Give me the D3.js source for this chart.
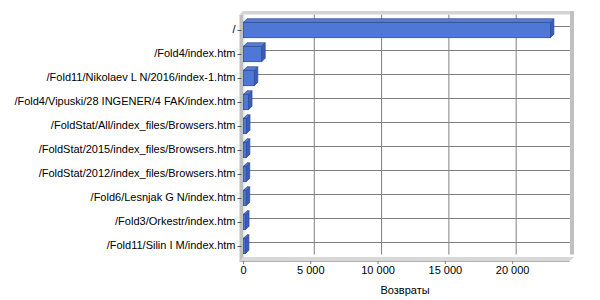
<!DOCTYPE html>
<html>
<head>
<meta charset="utf-8">
<script src="https://cdn.jsdelivr.net/npm/d3@7"></script>
<style>
    body { margin: 0; background: #fff; }
    text { font-family: "Liberation Sans", Arial, sans-serif; font-size: 11px; fill: #000; }
</style>
</head>
<body>
<div id="chart"></div>
<script>
// Categories, top to bottom
var pages = [
    "/",
    "/Fold4/index.htm",
    "/Fold11/Nikolaev L N/2016/index-1.htm",
    "/Fold4/Vipuski/28 INGENER/4 FAK/index.htm",
    "/FoldStat/All/index_files/Browsers.htm",
    "/FoldStat/2015/index_files/Browsers.htm",
    "/FoldStat/2012/index_files/Browsers.htm",
    "/Fold6/Lesnjak G N/index.htm",
    "/Fold3/Orkestr/index.htm",
    "/Fold11/Silin I M/index.htm"
];
// Returns per page
var returns = [22800, 1350, 800, 370, 220, 210, 200, 200, 150, 140];
var xTicks = [0, 5000, 10000, 15000, 20000];
var xMax = 24000;
var xTitle = "Возвраты";

var anchorElement = "#chart";
var width = 600;
var height = 300;

// front plane of the plot box
// (note: "top" is taken by window.top, so plotTop etc.)
var plotLeft = 243.5;
var plotRight = 566.5;
var plotTop = 18;
var plotBottom = 258;
var depth = 3.5;   // 3d offset of back wall (right and up)

function chart()
{
    var left = plotLeft, right = plotRight, top = plotTop, bottom = plotBottom;

    var svg = d3.select(anchorElement).append("svg")
        .attr("width", width)
        .attr("height", height);

    var x = d3.scaleLinear()
        .domain([0, xMax])
        .range([left, right]);

    var y = d3.scaleBand()
        .domain(pages)
        .range([top, bottom])
        .paddingInner(0.36)
        .paddingOuter(0.18);

    var yCenter = function(d) { return y(d) + y.bandwidth() / 2; };

    // back wall
    svg.append("rect")
        .attr("x", x(0) + depth)
        .attr("y", top - depth)
        .attr("width", right - left)
        .attr("height", bottom - top)
        .style("fill", "#fff");

    // vertical gridlines on the back wall
    svg.selectAll(".vgrid")
        .data(xTicks.slice(1))
      .enter().append("line")
        .attr("class", "vgrid")
        .attr("x1", function(d) { return x(d) + depth; })
        .attr("x2", function(d) { return x(d) + depth; })
        .attr("y1", top - depth)
        .attr("y2", bottom - depth)
        .style("stroke", "#808080");

    // horizontal gridlines on the back wall
    svg.selectAll(".hgrid")
        .data(pages)
      .enter().append("line")
        .attr("class", "hgrid")
        .attr("x1", x(0) + depth)
        .attr("x2", right + depth)
        .attr("y1", function(d) { return yCenter(d) - depth; })
        .attr("y2", function(d) { return yCenter(d) - depth; })
        .style("stroke", "#808080");

    // wall edges (grey slabs)
    var wall = "#c0c0c0";
    // top edge of back wall
    svg.append("path")
        .attr("d", "M" + (left - 4) + "," + (top - depth + 0.5) +
            "L" + (left - 4 + depth) + "," + (top - 2 * depth) +
            "L" + (right + depth + 4) + "," + (top - 2 * depth) +
            "L" + (right + depth + 4) + "," + (top - depth) +
            "L" + (left + depth) + "," + (top - depth) + "Z")
        .style("fill", "#d4d4d4");
    // right edge of back wall
    svg.append("rect")
        .attr("x", right + depth)
        .attr("y", top - 2 * depth)
        .attr("width", 4)
        .attr("height", bottom - top + depth)
        .style("fill", wall);
    // left wall
    svg.append("path")
        .attr("d", "M" + (left - 4) + "," + (top - depth + 0.5) +
            "L" + left + "," + (top - depth + 0.5) +
            "L" + left + "," + (bottom + 3) +
            "L" + (left - 4) + "," + (bottom + 3) + "Z")
        .style("fill", wall);
    svg.append("line")
        .attr("x1", left + 0.5).attr("x2", left + 0.5)
        .attr("y1", top - depth).attr("y2", bottom)
        .style("stroke", "#e8e8e8");
    // floor
    svg.append("path")
        .attr("d", "M" + (left - 4) + "," + (bottom + 3) +
            "L" + (left) + "," + (bottom - 1) +
            "L" + (right + depth + 4) + "," + (bottom - 1) +
            "L" + (right + 3) + "," + (bottom + 3) + "Z")
        .style("fill", "#d8d8d8");
    svg.append("line")
        .attr("x1", left - 4).attr("x2", right + 3)
        .attr("y1", bottom + 3.5).attr("y2", bottom + 3.5)
        .style("stroke", "#b0b0b0");

    // bars: right side, top, front
    var bars = svg.selectAll(".bar")
        .data(pages)
      .enter().append("g")
        .attr("class", "bar");

    bars.append("path")
        .attr("d", function(d, i) {
            var x1 = x(returns[i]), y0 = y(d), y1 = y(d) + y.bandwidth();
            return "M" + x1 + "," + y0 + "L" + (x1 + depth) + "," + (y0 - depth) +
                "L" + (x1 + depth) + "," + (y1 - depth) + "L" + x1 + "," + y1 + "Z";
        })
        .style("fill", "#3d5cb3")
        .style("stroke", "#2f4c99")
        .style("stroke-width", 0.8);

    bars.append("path")
        .attr("d", function(d, i) {
            var x0 = x(0), x1 = x(returns[i]), y0 = y(d);
            return "M" + x0 + "," + y0 + "L" + (x0 + depth) + "," + (y0 - depth) +
                "L" + (x1 + depth) + "," + (y0 - depth) + "L" + x1 + "," + y0 + "Z";
        })
        .style("fill", "#5a80d8")
        .style("stroke", "#2f4c99")
        .style("stroke-width", 0.8);

    bars.append("rect")
        .attr("x", x(0))
        .attr("y", function(d) { return y(d); })
        .attr("width", function(d, i) { return x(returns[i]) - x(0); })
        .attr("height", y.bandwidth())
        .style("fill", "#4f78d6")
        .style("stroke", "#2f4c99")
        .style("stroke-width", 0.8);

    // category ticks and labels
    svg.selectAll(".ytick")
        .data(pages)
      .enter().append("line")
        .attr("class", "ytick")
        .attr("x1", left - 6)
        .attr("x2", left - 2)
        .attr("y1", function(d) { return yCenter(d) + 0.5; })
        .attr("y2", function(d) { return yCenter(d) + 0.5; })
        .style("stroke", "#555");

    svg.selectAll(".ylabel")
        .data(pages)
      .enter().append("text")
        .attr("class", "ylabel")
        .attr("x", left - 8)
        .attr("y", function(d) { return yCenter(d) - 1; })
        .attr("dy", "0.35em")
        .attr("text-anchor", "end")
        .text(function(d) { return d; });

    // value axis ticks and labels
    svg.selectAll(".xtick")
        .data(xTicks)
      .enter().append("line")
        .attr("class", "xtick")
        .attr("x1", function(d) { return x(d); })
        .attr("x2", function(d) { return x(d); })
        .attr("y1", bottom + 3)
        .attr("y2", bottom + 6)
        .style("stroke", "#808080");

    var fmt = function(d) { return d3.format(",")(d).replace(/,/g, " "); };
    svg.selectAll(".xlabel")
        .data(xTicks)
      .enter().append("text")
        .attr("class", "xlabel")
        .attr("x", function(d) { return x(d); })
        .attr("y", 274)
        .attr("text-anchor", "middle")
        .text(fmt);

    svg.append("text")
        .attr("x", 405)
        .attr("y", 294)
        .attr("text-anchor", "middle")
        .text(xTitle);
}

// Starts here
chart();
</script>
</body>
</html>
